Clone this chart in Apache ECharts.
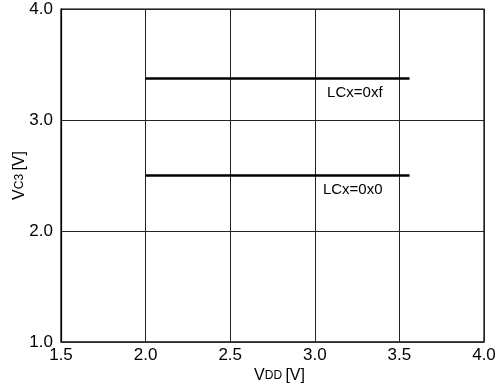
<!DOCTYPE html>
<html>
<head>
<meta charset="utf-8">
<script src="https://cdn.jsdelivr.net/npm/echarts@6/dist/echarts.min.js"></script>
<style>
  html, body { margin: 0; padding: 0; background: #fff; }
  #chart { width: 503px; height: 391px; }
</style>
</head>
<body>
<div id="chart"></div>
<script>
// LCD drive voltage VC3 versus supply voltage VDD
const vddRange = [2.0, 3.56];
const vc3LCxF = [3.375, 3.375];
const vc3LCx0 = [2.5, 2.5];
const seriesNames = ['LCx=0xf', 'LCx=0x0'];

const FONT = 'Liberation Sans, Arial, Helvetica, sans-serif';

function pairs(xs, ys) {
  return xs.map((x, i) => [x, ys[i]]);
}

// A flat level line with its name written under the right end
function levelSeries(name, ys) {
  const data = pairs(vddRange, ys);
  return {
    name: name,
    type: 'line',
    data: data.map((p, i) => ({
      value: p,
      label: i === data.length - 1 ? {
        show: true,
        formatter: name,
        position: 'bottom',
        align: 'right',
        offset: [-27, 1],
        color: '#000',
        fontSize: 15,
        fontFamily: FONT
      } : { show: false }
    })),
    symbol: 'circle',
    symbolSize: 1,
    showSymbol: true,
    itemStyle: { color: 'rgba(0,0,0,0)' },
    lineStyle: { color: '#000', width: 2.5 },
    silent: true,
    animation: false
  };
}

const nameRich = {
  v: { fontSize: 16, fontFamily: FONT, color: '#000' },
  s: { fontSize: 12, fontFamily: FONT, color: '#000' }
};

const chart = echarts.init(document.getElementById('chart'), null, { renderer: 'canvas' });
chart.setOption({
  animation: false,
  backgroundColor: '#fff',
  grid: {
    left: 61, top: 9, right: 19, bottom: 49,
    containLabel: false,
    outerBoundsMode: 'none',
    show: true, borderColor: '#000', borderWidth: 1.2
  },
  xAxis: {
    type: 'value',
    min: 1.5, max: 4.0, interval: 0.5,
    name: '{v|V}{s|DD} {v|[V]}',
    nameLocation: 'middle',
    nameGap: 26,
    nameMoveOverlap: false,
    nameTextStyle: { rich: nameRich, padding: [0, 0, 0, 14] },
    axisLine: { lineStyle: { color: '#333', width: 1.5 } },
    axisTick: { show: false },
    axisLabel: { color: '#000', fontSize: 17, fontFamily: FONT, margin: 5, formatter: v => v.toFixed(1) },
    splitLine: { lineStyle: { color: '#222', width: 1 } }
  },
  yAxis: {
    type: 'value',
    min: 1.0, max: 4.0, interval: 1.0,
    name: '{v|V}{s|C3} {v|[V]}',
    nameLocation: 'middle',
    nameGap: 33,
    nameMoveOverlap: false,
    nameRotate: 90,
    nameTextStyle: { rich: nameRich },
    axisLine: { lineStyle: { color: '#000', width: 1.2 } },
    axisTick: { show: false },
    axisLabel: { color: '#000', fontSize: 17, fontFamily: FONT, margin: 8, formatter: v => v.toFixed(1) },
    splitLine: { lineStyle: { color: '#222', width: 1 } }
  },
  series: [
    levelSeries(seriesNames[0], vc3LCxF),
    levelSeries(seriesNames[1], vc3LCx0)
  ]
});
</script>
</body>
</html>
